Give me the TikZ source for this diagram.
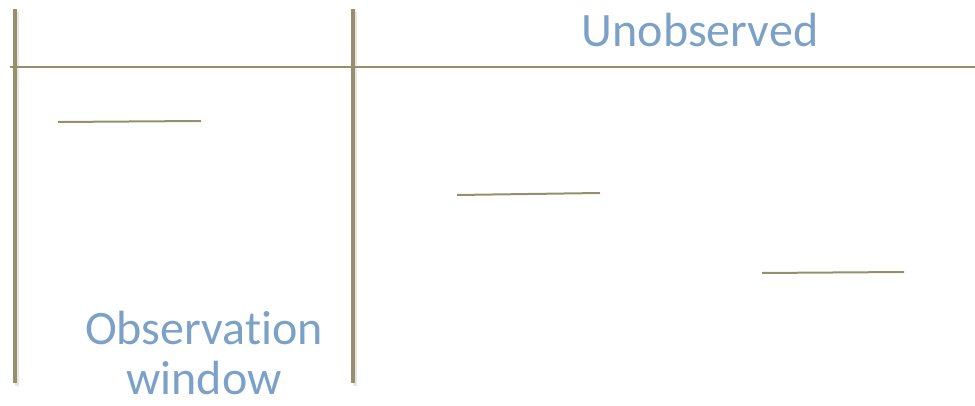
\documentclass[tikz,border=0pt]{standalone}
\usepackage{fontspec}
\setmainfont{Carlito}[Ligatures=NoCommon]
\definecolor{olive}{RGB}{150,143,108}
\definecolor{labelblue}{RGB}{124,161,200}
\tikzset{
  bar/.style={draw=olive, line width=4pt},
  rule/.style={draw=olive, line width=2pt},
  seg/.style={draw=olive, line width=2pt},
  shade/.style={draw=black!10, line width=4pt},
  lbl/.style={text=labelblue, font=\fontsize{48}{57}\selectfont, anchor=base, inner sep=0pt}
}
\begin{document}
\begin{tikzpicture}[x=1pt, y=-1pt]
\useasboundingbox (0,0) rectangle (975,406);
% coordinates
\coordinate (v1t) at (15,9);   \coordinate (v1b) at (15,383);
\coordinate (v2t) at (353,9);  \coordinate (v2b) at (353,383);
\coordinate (hl) at (10,67);   \coordinate (hr) at (975,67);
\coordinate (s1a) at (58,122); \coordinate (s1b) at (201,121);
\coordinate (s2a) at (457,195);\coordinate (s2b) at (600,193);
\coordinate (s3a) at (762,273);\coordinate (s3b) at (904,272);
% shadows
\draw[shade] ([xshift=2pt,yshift=-3pt]v1t) -- ([xshift=2pt,yshift=-3pt]v1b);
\draw[shade] ([xshift=2pt,yshift=-3pt]v2t) -- ([xshift=2pt,yshift=-3pt]v2b);
% lines
\draw[rule] (hl) -- (hr);
\draw[bar] (v1t) -- (v1b);
\draw[bar] (v2t) -- (v2b);
\draw[seg] (s1a) -- (s1b);
\draw[seg] (s2a) -- (s2b);
\draw[seg] (s3a) -- (s3b);
% labels
\node[lbl] (unobs) at (700,47) {Unobserved};
\node[lbl] (obs1) at (204,344) {Observation};
\node[lbl, text depth=0pt] (obs2) at (204,394) {window};
\end{tikzpicture}
\end{document}
